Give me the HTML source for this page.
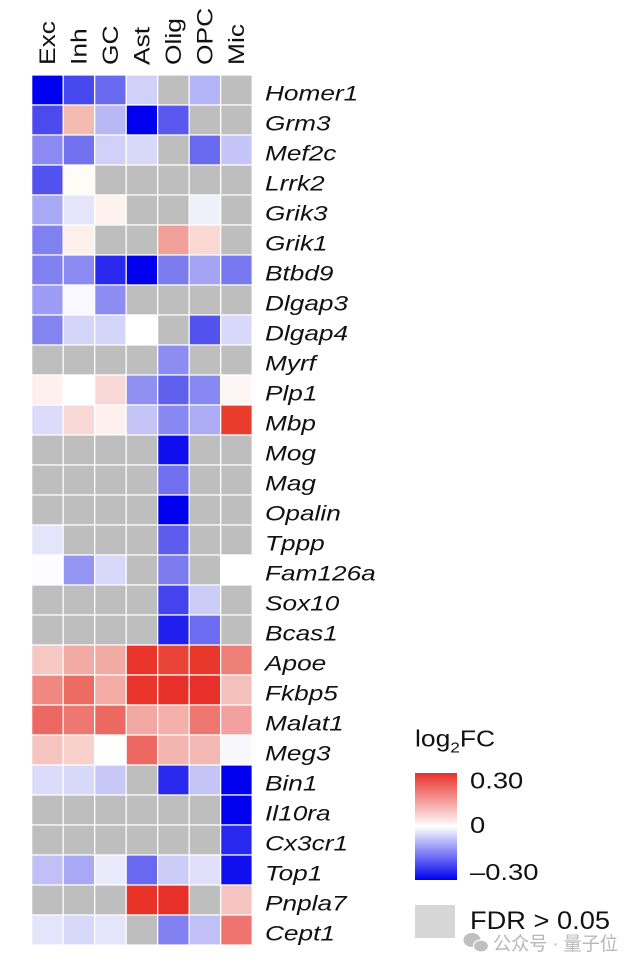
<!DOCTYPE html>
<html>
<head>
<meta charset="utf-8">
<style>
html,body{margin:0;padding:0;background:#fff;}
svg{display:block;}
text{font-family:"Liberation Sans","Noto Sans CJK SC",sans-serif;fill:#111;}
</style>
</head>
<body>
<svg width="640" height="968" viewBox="0 0 640 968" xmlns="http://www.w3.org/2000/svg">
<rect width="640" height="968" fill="#fff"/>

<!-- column headers -->
<g font-size="22">
<text transform="translate(55,65) rotate(-90) scale(1.2,1)">Exc</text>
<text transform="translate(86.5,65) rotate(-90) scale(1.2,1)">Inh</text>
<text transform="translate(118,65) rotate(-90) scale(1.2,1)">GC</text>
<text transform="translate(149.5,65) rotate(-90) scale(1.2,1)">Ast</text>
<text transform="translate(181,65) rotate(-90) scale(1.2,1)">Olig</text>
<text transform="translate(212.5,65) rotate(-90) scale(1.2,1)">OPC</text>
<text transform="translate(244,65) rotate(-90) scale(1.2,1)">Mic</text>
</g>

<!-- heatmap cells -->
<g stroke="#ffffff" stroke-width="1.2">
<!-- row 0 Homer1 -->
<rect x="31.7" y="75" width="31.5" height="30" fill="#0000F0"/>
<rect x="63.2" y="75" width="31.5" height="30" fill="#4848F0"/>
<rect x="94.7" y="75" width="31.5" height="30" fill="#6A6AF0"/>
<rect x="126.2" y="75" width="31.5" height="30" fill="#D0D0F8"/>
<rect x="157.7" y="75" width="31.5" height="30" fill="#BEBEBE"/>
<rect x="189.2" y="75" width="31.5" height="30" fill="#B4B4F8"/>
<rect x="220.7" y="75" width="31.5" height="30" fill="#BEBEBE"/>
<!-- row 1 Grm3 -->
<rect x="31.7" y="105" width="31.5" height="30" fill="#4A4AEE"/>
<rect x="63.2" y="105" width="31.5" height="30" fill="#F4BCB0"/>
<rect x="94.7" y="105" width="31.5" height="30" fill="#B8B8F4"/>
<rect x="126.2" y="105" width="31.5" height="30" fill="#0000EE"/>
<rect x="157.7" y="105" width="31.5" height="30" fill="#5858EE"/>
<rect x="189.2" y="105" width="31.5" height="30" fill="#BEBEBE"/>
<rect x="220.7" y="105" width="31.5" height="30" fill="#BEBEBE"/>
<!-- row 2 Mef2c -->
<rect x="31.7" y="135" width="31.5" height="30" fill="#8A8AF2"/>
<rect x="63.2" y="135" width="31.5" height="30" fill="#7272F0"/>
<rect x="94.7" y="135" width="31.5" height="30" fill="#D0D0F8"/>
<rect x="126.2" y="135" width="31.5" height="30" fill="#D8D8F8"/>
<rect x="157.7" y="135" width="31.5" height="30" fill="#BEBEBE"/>
<rect x="189.2" y="135" width="31.5" height="30" fill="#6A6AF0"/>
<rect x="220.7" y="135" width="31.5" height="30" fill="#C4C4F6"/>
<!-- row 3 Lrrk2 -->
<rect x="31.7" y="165" width="31.5" height="30" fill="#5252EE"/>
<rect x="63.2" y="165" width="31.5" height="30" fill="#FFFBF5"/>
<rect x="94.7" y="165" width="31.5" height="30" fill="#BEBEBE"/>
<rect x="126.2" y="165" width="31.5" height="30" fill="#BEBEBE"/>
<rect x="157.7" y="165" width="31.5" height="30" fill="#BEBEBE"/>
<rect x="189.2" y="165" width="31.5" height="30" fill="#BEBEBE"/>
<rect x="220.7" y="165" width="31.5" height="30" fill="#BEBEBE"/>
<!-- row 4 Grik3 -->
<rect x="31.7" y="195" width="31.5" height="30" fill="#A8A8F4"/>
<rect x="63.2" y="195" width="31.5" height="30" fill="#E4E4FA"/>
<rect x="94.7" y="195" width="31.5" height="30" fill="#FDF2EE"/>
<rect x="126.2" y="195" width="31.5" height="30" fill="#BEBEBE"/>
<rect x="157.7" y="195" width="31.5" height="30" fill="#BEBEBE"/>
<rect x="189.2" y="195" width="31.5" height="30" fill="#F0F0FB"/>
<rect x="220.7" y="195" width="31.5" height="30" fill="#BEBEBE"/>
<!-- row 5 Grik1 -->
<rect x="31.7" y="225" width="31.5" height="30" fill="#8080F0"/>
<rect x="63.2" y="225" width="31.5" height="30" fill="#FDF0EC"/>
<rect x="94.7" y="225" width="31.5" height="30" fill="#BEBEBE"/>
<rect x="126.2" y="225" width="31.5" height="30" fill="#BEBEBE"/>
<rect x="157.7" y="225" width="31.5" height="30" fill="#F0A098"/>
<rect x="189.2" y="225" width="31.5" height="30" fill="#FAD8D4"/>
<rect x="220.7" y="225" width="31.5" height="30" fill="#BEBEBE"/>
<!-- row 6 Btbd9 -->
<rect x="31.7" y="255" width="31.5" height="30" fill="#8080F0"/>
<rect x="63.2" y="255" width="31.5" height="30" fill="#8A8AF2"/>
<rect x="94.7" y="255" width="31.5" height="30" fill="#2828EE"/>
<rect x="126.2" y="255" width="31.5" height="30" fill="#0000EE"/>
<rect x="157.7" y="255" width="31.5" height="30" fill="#7C7CF0"/>
<rect x="189.2" y="255" width="31.5" height="30" fill="#A4A4F4"/>
<rect x="220.7" y="255" width="31.5" height="30" fill="#7878F0"/>
<!-- row 7 Dlgap3 -->
<rect x="31.7" y="285" width="31.5" height="30" fill="#9C9CF4"/>
<rect x="63.2" y="285" width="31.5" height="30" fill="#F8F8FE"/>
<rect x="94.7" y="285" width="31.5" height="30" fill="#8C8CF2"/>
<rect x="126.2" y="285" width="31.5" height="30" fill="#BEBEBE"/>
<rect x="157.7" y="285" width="31.5" height="30" fill="#BEBEBE"/>
<rect x="189.2" y="285" width="31.5" height="30" fill="#BEBEBE"/>
<rect x="220.7" y="285" width="31.5" height="30" fill="#BEBEBE"/>
<!-- row 8 Dlgap4 -->
<rect x="31.7" y="315" width="31.5" height="30" fill="#8484F0"/>
<rect x="63.2" y="315" width="31.5" height="30" fill="#D4D4F8"/>
<rect x="94.7" y="315" width="31.5" height="30" fill="#D4D4F8"/>
<rect x="126.2" y="315" width="31.5" height="30" fill="#FFFFFF"/>
<rect x="157.7" y="315" width="31.5" height="30" fill="#BEBEBE"/>
<rect x="189.2" y="315" width="31.5" height="30" fill="#5252EE"/>
<rect x="220.7" y="315" width="31.5" height="30" fill="#D8D8FA"/>
<!-- row 9 Myrf -->
<rect x="31.7" y="345" width="31.5" height="30" fill="#BEBEBE"/>
<rect x="63.2" y="345" width="31.5" height="30" fill="#BEBEBE"/>
<rect x="94.7" y="345" width="31.5" height="30" fill="#BEBEBE"/>
<rect x="126.2" y="345" width="31.5" height="30" fill="#BEBEBE"/>
<rect x="157.7" y="345" width="31.5" height="30" fill="#8C8CF2"/>
<rect x="189.2" y="345" width="31.5" height="30" fill="#BEBEBE"/>
<rect x="220.7" y="345" width="31.5" height="30" fill="#BEBEBE"/>
<!-- row 10 Plp1 -->
<rect x="31.7" y="375" width="31.5" height="30" fill="#FDF0EE"/>
<rect x="63.2" y="375" width="31.5" height="30" fill="#FFFFFF"/>
<rect x="94.7" y="375" width="31.5" height="30" fill="#F8D8D4"/>
<rect x="126.2" y="375" width="31.5" height="30" fill="#9090F2"/>
<rect x="157.7" y="375" width="31.5" height="30" fill="#6060EE"/>
<rect x="189.2" y="375" width="31.5" height="30" fill="#8888F2"/>
<rect x="220.7" y="375" width="31.5" height="30" fill="#FEF6F4"/>
<!-- row 11 Mbp -->
<rect x="31.7" y="405" width="31.5" height="30" fill="#DCDCFA"/>
<rect x="63.2" y="405" width="31.5" height="30" fill="#F8D8D4"/>
<rect x="94.7" y="405" width="31.5" height="30" fill="#FEF0EE"/>
<rect x="126.2" y="405" width="31.5" height="30" fill="#C4C4F6"/>
<rect x="157.7" y="405" width="31.5" height="30" fill="#8888F2"/>
<rect x="189.2" y="405" width="31.5" height="30" fill="#ACACF4"/>
<rect x="220.7" y="405" width="31.5" height="30" fill="#E83C2C"/>
<!-- row 12 Mog -->
<rect x="31.7" y="435" width="31.5" height="30" fill="#BEBEBE"/>
<rect x="63.2" y="435" width="31.5" height="30" fill="#BEBEBE"/>
<rect x="94.7" y="435" width="31.5" height="30" fill="#BEBEBE"/>
<rect x="126.2" y="435" width="31.5" height="30" fill="#BEBEBE"/>
<rect x="157.7" y="435" width="31.5" height="30" fill="#0E0EEE"/>
<rect x="189.2" y="435" width="31.5" height="30" fill="#BEBEBE"/>
<rect x="220.7" y="435" width="31.5" height="30" fill="#BEBEBE"/>
<!-- row 13 Mag -->
<rect x="31.7" y="465" width="31.5" height="30" fill="#BEBEBE"/>
<rect x="63.2" y="465" width="31.5" height="30" fill="#BEBEBE"/>
<rect x="94.7" y="465" width="31.5" height="30" fill="#BEBEBE"/>
<rect x="126.2" y="465" width="31.5" height="30" fill="#BEBEBE"/>
<rect x="157.7" y="465" width="31.5" height="30" fill="#7070F0"/>
<rect x="189.2" y="465" width="31.5" height="30" fill="#BEBEBE"/>
<rect x="220.7" y="465" width="31.5" height="30" fill="#BEBEBE"/>
<!-- row 14 Opalin -->
<rect x="31.7" y="495" width="31.5" height="30" fill="#BEBEBE"/>
<rect x="63.2" y="495" width="31.5" height="30" fill="#BEBEBE"/>
<rect x="94.7" y="495" width="31.5" height="30" fill="#BEBEBE"/>
<rect x="126.2" y="495" width="31.5" height="30" fill="#BEBEBE"/>
<rect x="157.7" y="495" width="31.5" height="30" fill="#0000EE"/>
<rect x="189.2" y="495" width="31.5" height="30" fill="#BEBEBE"/>
<rect x="220.7" y="495" width="31.5" height="30" fill="#BEBEBE"/>
<!-- row 15 Tppp -->
<rect x="31.7" y="525" width="31.5" height="30" fill="#E4E4FA"/>
<rect x="63.2" y="525" width="31.5" height="30" fill="#BEBEBE"/>
<rect x="94.7" y="525" width="31.5" height="30" fill="#BEBEBE"/>
<rect x="126.2" y="525" width="31.5" height="30" fill="#BEBEBE"/>
<rect x="157.7" y="525" width="31.5" height="30" fill="#5C5CEE"/>
<rect x="189.2" y="525" width="31.5" height="30" fill="#BEBEBE"/>
<rect x="220.7" y="525" width="31.5" height="30" fill="#BEBEBE"/>
<!-- row 16 Fam126a -->
<rect x="31.7" y="555" width="31.5" height="30" fill="#FDFDFF"/>
<rect x="63.2" y="555" width="31.5" height="30" fill="#9494F2"/>
<rect x="94.7" y="555" width="31.5" height="30" fill="#D8D8FA"/>
<rect x="126.2" y="555" width="31.5" height="30" fill="#BEBEBE"/>
<rect x="157.7" y="555" width="31.5" height="30" fill="#7C7CF0"/>
<rect x="189.2" y="555" width="31.5" height="30" fill="#BEBEBE"/>
<rect x="220.7" y="555" width="31.5" height="30" fill="#FFFFFF"/>
<!-- row 17 Sox10 -->
<rect x="31.7" y="585" width="31.5" height="30" fill="#BEBEBE"/>
<rect x="63.2" y="585" width="31.5" height="30" fill="#BEBEBE"/>
<rect x="94.7" y="585" width="31.5" height="30" fill="#BEBEBE"/>
<rect x="126.2" y="585" width="31.5" height="30" fill="#BEBEBE"/>
<rect x="157.7" y="585" width="31.5" height="30" fill="#4444EE"/>
<rect x="189.2" y="585" width="31.5" height="30" fill="#CCCCF8"/>
<rect x="220.7" y="585" width="31.5" height="30" fill="#BEBEBE"/>
<!-- row 18 Bcas1 -->
<rect x="31.7" y="615" width="31.5" height="30" fill="#BEBEBE"/>
<rect x="63.2" y="615" width="31.5" height="30" fill="#BEBEBE"/>
<rect x="94.7" y="615" width="31.5" height="30" fill="#BEBEBE"/>
<rect x="126.2" y="615" width="31.5" height="30" fill="#BEBEBE"/>
<rect x="157.7" y="615" width="31.5" height="30" fill="#2020EE"/>
<rect x="189.2" y="615" width="31.5" height="30" fill="#6C6CF0"/>
<rect x="220.7" y="615" width="31.5" height="30" fill="#BEBEBE"/>
<!-- row 19 Apoe -->
<rect x="31.7" y="645" width="31.5" height="30" fill="#F6C8C4"/>
<rect x="63.2" y="645" width="31.5" height="30" fill="#F2AAA4"/>
<rect x="94.7" y="645" width="31.5" height="30" fill="#F2AAA4"/>
<rect x="126.2" y="645" width="31.5" height="30" fill="#E8342A"/>
<rect x="157.7" y="645" width="31.5" height="30" fill="#EA4438"/>
<rect x="189.2" y="645" width="31.5" height="30" fill="#E8382C"/>
<rect x="220.7" y="645" width="31.5" height="30" fill="#EE8078"/>
<!-- row 20 Fkbp5 -->
<rect x="31.7" y="675" width="31.5" height="30" fill="#EE8880"/>
<rect x="63.2" y="675" width="31.5" height="30" fill="#EC6C64"/>
<rect x="94.7" y="675" width="31.5" height="30" fill="#F2ACA4"/>
<rect x="126.2" y="675" width="31.5" height="30" fill="#E8342A"/>
<rect x="157.7" y="675" width="31.5" height="30" fill="#E8302A"/>
<rect x="189.2" y="675" width="31.5" height="30" fill="#E8302A"/>
<rect x="220.7" y="675" width="31.5" height="30" fill="#F4C0BC"/>
<!-- row 21 Malat1 -->
<rect x="31.7" y="705" width="31.5" height="30" fill="#EC6860"/>
<rect x="63.2" y="705" width="31.5" height="30" fill="#EE7870"/>
<rect x="94.7" y="705" width="31.5" height="30" fill="#EC6860"/>
<rect x="126.2" y="705" width="31.5" height="30" fill="#F2A8A2"/>
<rect x="157.7" y="705" width="31.5" height="30" fill="#F4B0AA"/>
<rect x="189.2" y="705" width="31.5" height="30" fill="#EE7870"/>
<rect x="220.7" y="705" width="31.5" height="30" fill="#F2A0A0"/>
<!-- row 22 Meg3 -->
<rect x="31.7" y="735" width="31.5" height="30" fill="#F6C4C0"/>
<rect x="63.2" y="735" width="31.5" height="30" fill="#F8D0CC"/>
<rect x="94.7" y="735" width="31.5" height="30" fill="#FEFEFE"/>
<rect x="126.2" y="735" width="31.5" height="30" fill="#EC6860"/>
<rect x="157.7" y="735" width="31.5" height="30" fill="#F4B4B0"/>
<rect x="189.2" y="735" width="31.5" height="30" fill="#F4B8B4"/>
<rect x="220.7" y="735" width="31.5" height="30" fill="#F6F8FC"/>
<!-- row 23 Bin1 -->
<rect x="31.7" y="765" width="31.5" height="30" fill="#DCDCFA"/>
<rect x="63.2" y="765" width="31.5" height="30" fill="#D8D8FA"/>
<rect x="94.7" y="765" width="31.5" height="30" fill="#C8C8F8"/>
<rect x="126.2" y="765" width="31.5" height="30" fill="#BEBEBE"/>
<rect x="157.7" y="765" width="31.5" height="30" fill="#2A2AEE"/>
<rect x="189.2" y="765" width="31.5" height="30" fill="#C4C4F6"/>
<rect x="220.7" y="765" width="31.5" height="30" fill="#0000EE"/>
<!-- row 24 Il10ra -->
<rect x="31.7" y="795" width="31.5" height="30" fill="#BEBEBE"/>
<rect x="63.2" y="795" width="31.5" height="30" fill="#BEBEBE"/>
<rect x="94.7" y="795" width="31.5" height="30" fill="#BEBEBE"/>
<rect x="126.2" y="795" width="31.5" height="30" fill="#BEBEBE"/>
<rect x="157.7" y="795" width="31.5" height="30" fill="#BEBEBE"/>
<rect x="189.2" y="795" width="31.5" height="30" fill="#BEBEBE"/>
<rect x="220.7" y="795" width="31.5" height="30" fill="#0000EE"/>
<!-- row 25 Cx3cr1 -->
<rect x="31.7" y="825" width="31.5" height="30" fill="#BEBEBE"/>
<rect x="63.2" y="825" width="31.5" height="30" fill="#BEBEBE"/>
<rect x="94.7" y="825" width="31.5" height="30" fill="#BEBEBE"/>
<rect x="126.2" y="825" width="31.5" height="30" fill="#BEBEBE"/>
<rect x="157.7" y="825" width="31.5" height="30" fill="#BEBEBE"/>
<rect x="189.2" y="825" width="31.5" height="30" fill="#BEBEBE"/>
<rect x="220.7" y="825" width="31.5" height="30" fill="#2828EE"/>
<!-- row 26 Top1 -->
<rect x="31.7" y="855" width="31.5" height="30" fill="#C0C0F6"/>
<rect x="63.2" y="855" width="31.5" height="30" fill="#A8A8F4"/>
<rect x="94.7" y="855" width="31.5" height="30" fill="#EAEAFB"/>
<rect x="126.2" y="855" width="31.5" height="30" fill="#6868F0"/>
<rect x="157.7" y="855" width="31.5" height="30" fill="#CCCCF8"/>
<rect x="189.2" y="855" width="31.5" height="30" fill="#E0E0FA"/>
<rect x="220.7" y="855" width="31.5" height="30" fill="#1010EE"/>
<!-- row 27 Pnpla7 -->
<rect x="31.7" y="885" width="31.5" height="30" fill="#BEBEBE"/>
<rect x="63.2" y="885" width="31.5" height="30" fill="#BEBEBE"/>
<rect x="94.7" y="885" width="31.5" height="30" fill="#BEBEBE"/>
<rect x="126.2" y="885" width="31.5" height="30" fill="#E83428"/>
<rect x="157.7" y="885" width="31.5" height="30" fill="#E8302A"/>
<rect x="189.2" y="885" width="31.5" height="30" fill="#BEBEBE"/>
<rect x="220.7" y="885" width="31.5" height="30" fill="#F6C4C0"/>
<!-- row 28 Cept1 -->
<rect x="31.7" y="915" width="31.5" height="30" fill="#E4E4FA"/>
<rect x="63.2" y="915" width="31.5" height="30" fill="#D8D8FA"/>
<rect x="94.7" y="915" width="31.5" height="30" fill="#E4E4FA"/>
<rect x="126.2" y="915" width="31.5" height="30" fill="#BEBEBE"/>
<rect x="157.7" y="915" width="31.5" height="30" fill="#8080F0"/>
<rect x="189.2" y="915" width="31.5" height="30" fill="#C0C0F6"/>
<rect x="220.7" y="915" width="31.5" height="30" fill="#EE7470"/>
</g>

<!-- gene labels -->
<g font-size="21.5" font-style="italic">
<text transform="translate(265,100.7) scale(1.22,1)">Homer1</text>
<text transform="translate(265,130.7) scale(1.22,1)">Grm3</text>
<text transform="translate(265,160.7) scale(1.22,1)">Mef2c</text>
<text transform="translate(265,190.7) scale(1.22,1)">Lrrk2</text>
<text transform="translate(265,220.7) scale(1.22,1)">Grik3</text>
<text transform="translate(265,250.7) scale(1.22,1)">Grik1</text>
<text transform="translate(265,280.7) scale(1.22,1)">Btbd9</text>
<text transform="translate(265,310.7) scale(1.22,1)">Dlgap3</text>
<text transform="translate(265,340.7) scale(1.22,1)">Dlgap4</text>
<text transform="translate(265,370.7) scale(1.22,1)">Myrf</text>
<text transform="translate(265,400.7) scale(1.22,1)">Plp1</text>
<text transform="translate(265,430.7) scale(1.22,1)">Mbp</text>
<text transform="translate(265,460.7) scale(1.22,1)">Mog</text>
<text transform="translate(265,490.7) scale(1.22,1)">Mag</text>
<text transform="translate(265,520.7) scale(1.22,1)">Opalin</text>
<text transform="translate(265,550.7) scale(1.22,1)">Tppp</text>
<text transform="translate(265,580.7) scale(1.22,1)">Fam126a</text>
<text transform="translate(265,610.7) scale(1.22,1)">Sox10</text>
<text transform="translate(265,640.7) scale(1.22,1)">Bcas1</text>
<text transform="translate(265,670.7) scale(1.22,1)">Apoe</text>
<text transform="translate(265,700.7) scale(1.22,1)">Fkbp5</text>
<text transform="translate(265,730.7) scale(1.22,1)">Malat1</text>
<text transform="translate(265,760.7) scale(1.22,1)">Meg3</text>
<text transform="translate(265,790.7) scale(1.22,1)">Bin1</text>
<text transform="translate(265,820.7) scale(1.22,1)">Il10ra</text>
<text transform="translate(265,850.7) scale(1.22,1)">Cx3cr1</text>
<text transform="translate(265,880.7) scale(1.22,1)">Top1</text>
<text transform="translate(265,910.7) scale(1.22,1)">Pnpla7</text>
<text transform="translate(265,940.7) scale(1.22,1)">Cept1</text>
</g>

<!-- legend -->
<defs>
<linearGradient id="cb" x1="0" y1="0" x2="0" y2="1">
<stop offset="0" stop-color="#E8302A"/>
<stop offset="0.5" stop-color="#FFFFFF"/>
<stop offset="1" stop-color="#0000EE"/>
</linearGradient>
</defs>
<text font-size="23" transform="translate(415,746.7) scale(1.15,1)">log<tspan font-size="15" dy="6">2</tspan><tspan dy="-6">FC</tspan></text>
<rect x="415" y="773" width="42" height="107" fill="url(#cb)"/>
<g font-size="23">
<text transform="translate(470,788.3) scale(1.19,1)">0.30</text>
<text transform="translate(470,833) scale(1.19,1)">0</text>
<text transform="translate(470,880) scale(1.19,1)">–0.30</text>
</g>
<rect x="415" y="905" width="40" height="33" fill="#D6D6D6"/>
<text font-size="25" x="470" y="929" textLength="140" lengthAdjust="spacingAndGlyphs">FDR &gt; 0.05</text>

<!-- watermark -->
<g opacity="0.85">
<ellipse cx="472" cy="940" rx="8.5" ry="7" fill="#B4B4B4"/>
<ellipse cx="481" cy="946" rx="7.5" ry="6" fill="#B4B4B4" stroke="#fff" stroke-width="1.2"/>
<text x="493" y="950" font-size="19" fill="#ABABAB" style="fill:#ABABAB" textLength="125" lengthAdjust="spacingAndGlyphs">公众号 · 量子位</text>
</g>
</svg>
</body>
</html>
